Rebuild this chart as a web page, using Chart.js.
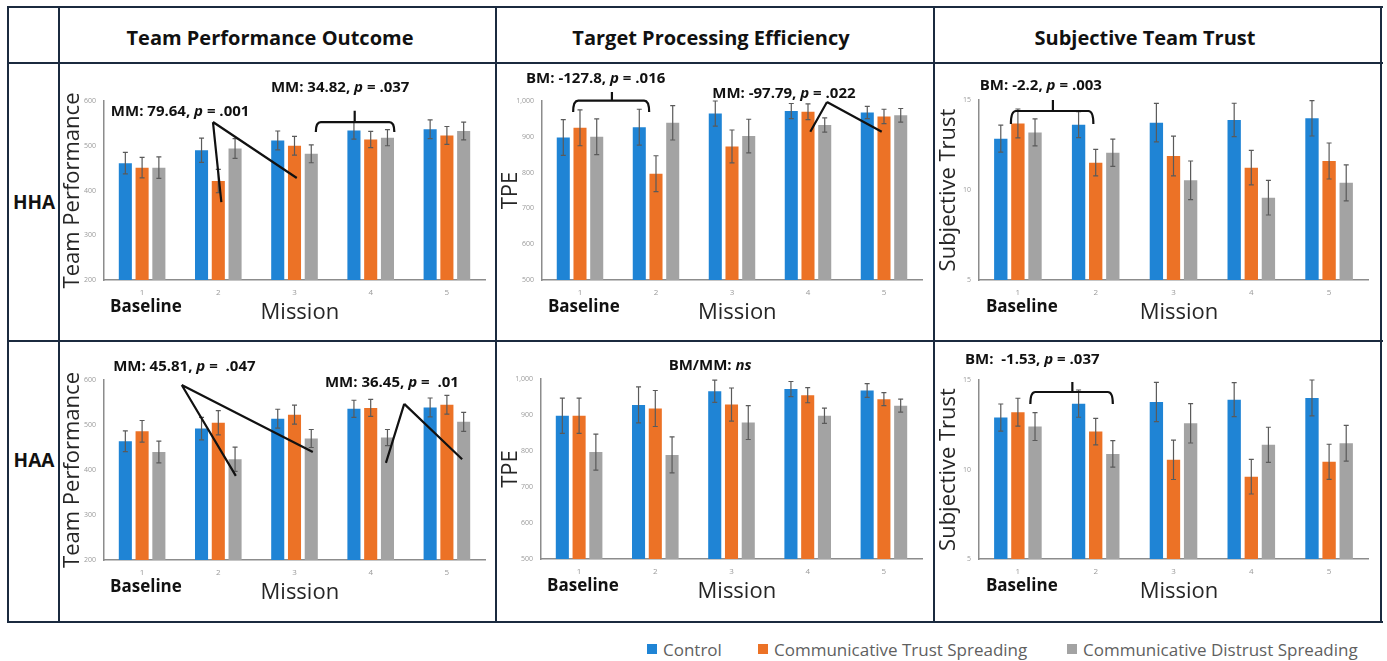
<!DOCTYPE html>
<html>
<head>
<meta charset="utf-8">
<script src="https://cdn.jsdelivr.net/npm/chart.js@4.4.1/dist/chart.umd.min.js"></script>
<style>
  body { margin: 0; background: #fff; font-family: "Open Sans", sans-serif; }
  #page { position: relative; width: 1387px; height: 661px; overflow: hidden; background: #fff; }
  .hl, .vl { position: absolute; background: #1b2a3f; }
  .hl { height: 2px; }
  .vl { width: 2px; }
  .head, .rowlab { position: absolute; transform: translate(-50%, -50%); white-space: nowrap; font-weight: 700; color: #111; }
  .head { font-size: 20px; }
  .rowlab { font-size: 19px; }
  canvas { position: absolute; }
  .sw { position: absolute; width: 10px; height: 10px; }
  .lt { position: absolute; font-size: 17px; color: #5f5f5f; transform: translateY(-50%); white-space: nowrap; }
</style>
</head>
<body>
<div id="page">
  <!-- table lines -->
  <div class="hl" style="left:8px; top:6px; width:1375px"></div>
  <div class="hl" style="left:8px; top:62px; width:1375px"></div>
  <div class="hl" style="left:8px; top:340px; width:1375px"></div>
  <div class="hl" style="left:8px; top:621px; width:1375px"></div>
  <div class="vl" style="left:7px; top:6px; height:617px"></div>
  <div class="vl" style="left:58px; top:6px; height:617px"></div>
  <div class="vl" style="left:495px; top:6px; height:617px"></div>
  <div class="vl" style="left:933px; top:6px; height:617px"></div>
  <div class="vl" style="left:1380px; top:6px; height:617px"></div>

  <div class="head" style="left:270px; top:37px">Team Performance Outcome</div>
  <div class="head" style="left:711px; top:37px">Target Processing Efficiency</div>
  <div class="head" style="left:1145px; top:37px">Subjective Team Trust</div>
  <div class="rowlab" style="left:34px; top:202px">HHA</div>
  <div class="rowlab" style="left:34px; top:460px">HAA</div>

  <canvas id="c1"></canvas>
  <canvas id="c2"></canvas>
  <canvas id="c3"></canvas>
  <canvas id="c4"></canvas>
  <canvas id="c5"></canvas>
  <canvas id="c6"></canvas>

  <!-- legend -->
  <div class="sw" style="left:647px; top:644px; background:#1f84d5"></div>
  <div class="lt" style="left:663px; top:649px">Control</div>
  <div class="sw" style="left:758px; top:644px; background:#ec7226"></div>
  <div class="lt" style="left:774px; top:649px">Communicative Trust Spreading</div>
  <div class="sw" style="left:1067px; top:644px; background:#a3a3a3"></div>
  <div class="lt" style="left:1083px; top:649px">Communicative Distrust Spreading</div>
</div>

<script>
const missions = ['1', '2', '3', '4', '5'];
const seriesNames = ['Control', 'Communicative Trust Spreading', 'Communicative Distrust Spreading'];

// HHA - team performance
const hhaPerfControl = [461, 490, 512, 534, 537];
const hhaPerfTrust = [451, 421, 500, 514, 523];
const hhaPerfDistrust = [451, 494, 482, 518, 533];
const hhaPerfControlErr = [24, 27, 21, 19, 21];
const hhaPerfTrustErr = [23, 26, 21, 18, 20];
const hhaPerfDistrustErr = [24, 22, 20, 18, 20];

// HHA - TPE
const hhaTpeControl = [898, 927, 965, 972, 968];
const hhaTpeTrust = [925, 797, 873, 970, 957];
const hhaTpeDistrust = [900, 939, 902, 933, 960];
const hhaTpeControlErr = [50, 50, 35, 21, 17];
const hhaTpeTrustErr = [50, 50, 46, 22, 20];
const hhaTpeDistrustErr = [50, 48, 47, 20, 19];

// HHA - subjective trust
const hhaTrustControl = [12.85, 13.63, 13.74, 13.89, 13.98];
const hhaTrustTrust = [13.7, 11.52, 11.89, 11.24, 11.61];
const hhaTrustDistrust = [13.2, 12.07, 10.54, 9.57, 10.4];
const hhaTrustControlErr = [0.75, 0.72, 1.07, 0.93, 0.98];
const hhaTrustTrustErr = [0.8, 0.74, 1.1, 0.96, 1.0];
const hhaTrustDistrustErr = [0.75, 0.76, 1.07, 0.96, 1.0];

// HAA - team performance
const haaPerfControl = [464, 492, 514, 536, 539];
const haaPerfTrust = [486, 505, 523, 538, 545];
const haaPerfDistrust = [440, 424, 470, 472, 507];
const haaPerfControlErr = [23, 25, 21, 19, 21];
const haaPerfTrustErr = [24, 27, 21, 19, 21];
const haaPerfDistrustErr = [24, 27, 20, 18, 21];

// HAA - TPE
const haaTpeControl = [898, 928, 966, 972, 968];
const haaTpeTrust = [898, 918, 929, 955, 944];
const haaTpeDistrust = [797, 789, 879, 898, 926];
const haaTpeControlErr = [49, 50, 31, 21, 19];
const haaTpeTrustErr = [49, 50, 46, 21, 18];
const haaTpeDistrustErr = [50, 50, 47, 21, 18];

// HAA - subjective trust
const haaTrustControl = [12.9, 13.68, 13.77, 13.9, 14.0];
const haaTrustTrust = [13.2, 12.12, 10.54, 9.6, 10.43];
const haaTrustDistrust = [12.4, 10.87, 12.58, 11.38, 11.47];
const haaTrustControlErr = [0.76, 0.76, 1.1, 0.95, 1.0];
const haaTrustTrustErr = [0.78, 0.74, 1.1, 0.97, 0.98];
const haaTrustDistrustErr = [0.78, 0.74, 1.1, 0.98, 1.0];

const COLORS = ['#1f84d5', '#ec7226', '#a3a3a3'];
const FONT = '"Open Sans", sans-serif';
Chart.defaults.font.family = FONT;

// error bars, drawn from each dataset's "errors" array
const errorBars = {
  id: 'errorBars',
  afterDatasetsDraw(chart) {
    const ctx = chart.ctx;
    const y = chart.scales.y;
    ctx.save();
    ctx.strokeStyle = '#5a5a5a';
    ctx.lineWidth = 1.2;
    chart.data.datasets.forEach((ds, i) => {
      chart.getDatasetMeta(i).data.forEach((bar, j) => {
        const v = ds.data[j], e = ds.errors[j];
        const top = y.getPixelForValue(v + e), bot = y.getPixelForValue(v - e);
        ctx.beginPath();
        ctx.moveTo(bar.x, top); ctx.lineTo(bar.x, bot);
        ctx.moveTo(bar.x - 2.5, top); ctx.lineTo(bar.x + 2.5, top);
        ctx.moveTo(bar.x - 2.5, bot); ctx.lineTo(bar.x + 2.5, bot);
        ctx.stroke();
      });
    });
    ctx.restore();
  }
};

// text with *italic* parts
function richText(ctx, str, x, y, size, align) {
  const parts = str.split('*');
  let w = 0;
  parts.forEach((t, k) => {
    ctx.font = (k % 2 ? 'italic ' : '') + '700 ' + size + 'px ' + FONT;
    w += ctx.measureText(t).width;
  });
  let cx = align === 'center' ? x - w / 2 : x;
  ctx.textAlign = 'left';
  ctx.textBaseline = 'middle';
  parts.forEach((t, k) => {
    ctx.font = (k % 2 ? 'italic ' : '') + '700 ' + size + 'px ' + FONT;
    ctx.fillText(t, cx, y);
    cx += ctx.measureText(t).width;
  });
}

// Baseline / Mission labels and significance notes
function notesPlugin(notes) {
  return {
    id: 'notes',
    afterDraw(chart) {
      const ctx = chart.ctx;
      const xs = chart.scales.x, ys = chart.scales.y;
      const area = chart.chartArea;
      const px = v => xs.getPixelForValue(v);
      const py = v => ys.getPixelForValue(v);
      ctx.save();
      ctx.fillStyle = '#111';
      ctx.textAlign = 'center';
      ctx.textBaseline = 'middle';
      ctx.font = '700 17px ' + FONT;
      ctx.fillText('Baseline', px(0.05), area.bottom + 27);
      ctx.fillStyle = '#262626';
      ctx.font = '400 22px ' + FONT;
      ctx.fillText('Mission', px(2.07), area.bottom + 33);

      ctx.fillStyle = '#111';
      ctx.strokeStyle = '#111';
      ctx.lineWidth = 2.2;
      notes.forEach(n => {
        if (n.type === 'text') {
          richText(ctx, n.text, px(n.x), py(n.y), 15, n.align || 'left');
        } else if (n.type === 'lines') {
          ctx.beginPath();
          n.ends.forEach(e => {
            ctx.moveTo(px(n.apex[0]), py(n.apex[1]));
            ctx.lineTo(px(e[0]), py(e[1]));
          });
          ctx.stroke();
        } else if (n.type === 'brace') {
          const x1 = px(n.x1), x2 = px(n.x2), y = py(n.y), leg = py(n.leg);
          ctx.beginPath();
          ctx.moveTo(x1, leg);
          ctx.quadraticCurveTo(x1, y, x1 + 5, y);
          ctx.lineTo(x2 - 5, y);
          ctx.quadraticCurveTo(x2, y, x2, leg);
          ctx.moveTo(px(n.mid), y);
          ctx.lineTo(px(n.mid), py(n.top));
          ctx.stroke();
        }
      });
      ctx.restore();
    }
  };
}

function buildPanel(id, p) {
  const cv = document.getElementById(id);
  cv.width = p.box[2];
  cv.height = p.box[3];
  cv.style.left = p.box[0] + 'px';
  cv.style.top = p.box[1] + 'px';

  new Chart(cv, {
    type: 'bar',
    data: {
      labels: missions,
      datasets: p.values.map((v, i) => ({
        label: seriesNames[i],
        data: v,
        errors: p.errors[i],
        backgroundColor: COLORS[i],
        categoryPercentage: 0.66,
        barPercentage: 0.78
      }))
    },
    options: {
      responsive: false,
      animation: false,
      locale: 'en-US',
      layout: { padding: { top: p.padTop, right: p.padRight, left: 0, bottom: 0 } },
      plugins: { legend: { display: false }, tooltip: { enabled: false } },
      scales: {
        x: {
          grid: { display: false, drawTicks: false },
          border: { color: '#8c8c8c', width: 1.5 },
          ticks: { font: { size: 8 }, color: '#9a9a9a', padding: 8 },
          afterFit: s => { s.height = p.xh; }
        },
        y: {
          min: p.min,
          max: p.max,
          grid: { display: false, drawTicks: false },
          border: { color: '#8c8c8c', width: 1.5 },
          ticks: { stepSize: p.step, font: { size: 7 }, color: '#9a9a9a', padding: 8 },
          title: { display: true, text: p.yTitle, font: { size: 22 }, color: '#262626', padding: 0 },
          afterFit: s => { s.width = p.yw; }
        }
      }
    },
    plugins: [errorBars, notesPlugin(p.notes)]
  });
}

buildPanel('c1', {
  box: [60, 64, 435, 276], padTop: 37, padRight: 10, xh: 60, yw: 44,
  min: 200, max: 600, step: 100, yTitle: 'Team Performance',
  values: [hhaPerfControl, hhaPerfTrust, hhaPerfDistrust],
  errors: [hhaPerfControlErr, hhaPerfTrustErr, hhaPerfDistrustErr],
  notes: [
    { type: 'text', x: -0.41, y: 575, text: 'MM: 79.64, *p* = .001' },
    { type: 'lines', apex: [0.93, 553], ends: [[1.04, 374], [2.03, 428]] },
    { type: 'text', x: 1.69, y: 629, text: 'MM: 34.82, *p* = .037' },
    { type: 'brace', x1: 2.28, x2: 3.31, y: 553, leg: 531, mid: 2.79, top: 578 }
  ]
});

buildPanel('c2', {
  box: [498, 64, 435, 276], padTop: 37, padRight: 11, xh: 60, yw: 44,
  min: 500, max: 1000, step: 100, yTitle: 'TPE',
  values: [hhaTpeControl, hhaTpeTrust, hhaTpeDistrust],
  errors: [hhaTpeControlErr, hhaTpeTrustErr, hhaTpeDistrustErr],
  notes: [
    { type: 'text', x: -0.71, y: 1061, text: 'BM: -127.8, *p* = .016' },
    { type: 'brace', x1: -0.09, x2: 0.91, y: 1001, leg: 969, mid: 0.42, top: 1025 },
    { type: 'text', x: 1.74, y: 1019, text: 'MM: -97.79, *p* = .022' },
    { type: 'lines', apex: [3.25, 997], ends: [[3.03, 914], [3.97, 914]] }
  ]
});

buildPanel('c3', {
  box: [936, 64, 444, 276], padTop: 36, padRight: 12, xh: 60, yw: 43,
  min: 5, max: 15, step: 5, yTitle: 'Subjective Trust',
  values: [hhaTrustControl, hhaTrustTrust, hhaTrustDistrust],
  errors: [hhaTrustControlErr, hhaTrustTrustErr, hhaTrustDistrustErr],
  notes: [
    { type: 'text', x: -0.49, y: 15.78, text: 'BM: -2.2, *p* = .003' },
    { type: 'brace', x1: -0.09, x2: 0.97, y: 14.39, leg: 13.67, mid: 0.45, top: 15.0 }
  ]
});

buildPanel('c4', {
  box: [60, 342, 435, 279], padTop: 38, padRight: 10, xh: 61, yw: 44,
  min: 200, max: 600, step: 100, yTitle: 'Team Performance',
  values: [haaPerfControl, haaPerfTrust, haaPerfDistrust],
  errors: [haaPerfControlErr, haaPerfTrustErr, haaPerfDistrustErr],
  notes: [
    { type: 'text', x: -0.38, y: 629, text: 'MM: 45.81, *p* =  .047' },
    { type: 'lines', apex: [0.52, 589], ends: [[1.23, 387], [2.24, 440]] },
    { type: 'text', x: 2.40, y: 593, text: 'MM: 36.45, *p* =  .01' },
    { type: 'lines', apex: [3.44, 547], ends: [[3.20, 416], [4.20, 424]] }
  ]
});

buildPanel('c5', {
  box: [498, 342, 435, 279], padTop: 37, padRight: 11, xh: 62, yw: 43,
  min: 500, max: 1000, step: 100, yTitle: 'TPE',
  values: [haaTpeControl, haaTpeTrust, haaTpeDistrust],
  errors: [haaTpeControlErr, haaTpeTrustErr, haaTpeDistrustErr],
  notes: [
    { type: 'text', x: 1.72, y: 1036, text: 'BM/MM: *ns*', align: 'center' }
  ]
});

buildPanel('c6', {
  box: [936, 342, 444, 279], padTop: 38, padRight: 12, xh: 62, yw: 43,
  min: 5, max: 15, step: 5, yTitle: 'Subjective Trust',
  values: [haaTrustControl, haaTrustTrust, haaTrustDistrust],
  errors: [haaTrustControlErr, haaTrustTrustErr, haaTrustDistrustErr],
  notes: [
    { type: 'text', x: -0.68, y: 16.12, text: 'BM:  -1.53, *p* = .037' },
    { type: 'brace', x1: 0.16, x2: 1.22, y: 14.33, leg: 13.66, mid: 0.70, top: 14.89 }
  ]
});
</script>
</body>
</html>
